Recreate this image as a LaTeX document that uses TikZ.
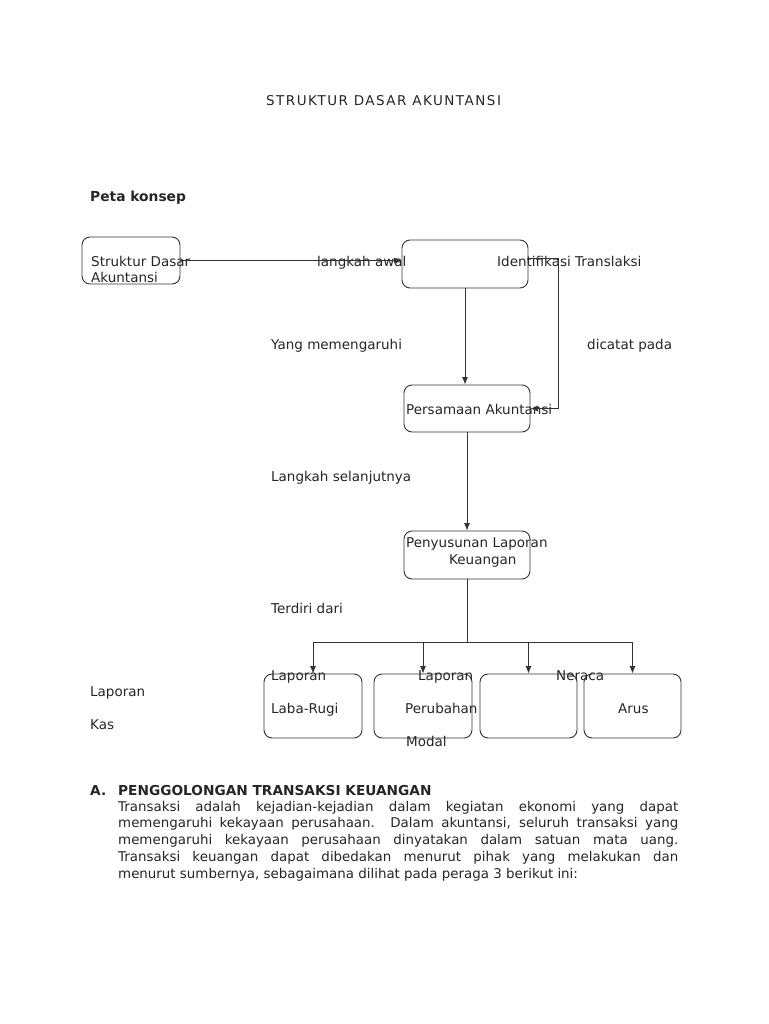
\documentclass[tikz,border=0pt]{standalone}
\usepackage{fontspec}
\setmainfont{DejaVu Sans}
\newfontfamily\spacedfont[LetterSpace=11]{DejaVu Sans}
\usetikzlibrary{arrows.meta}
\newcommand\jline[1]{\hbox to 560pt{\spaceskip=0.318em plus 1fil minus 0.15em #1}}
\begin{document}
\begin{tikzpicture}[x=1pt,y=-1pt,
  box/.style={draw=black!80,line width=0.9pt,rounded corners=8pt,inner sep=0pt},
  lbl/.style={anchor=base west,inner sep=0pt,font=\fontsize{13.5}{16}\selectfont,text=black!85},
  ln/.style={draw=black!80,line width=0.9pt},
  arr/.style={ln,-{Latex[length=7.5pt,width=6pt]}}]
\useasboundingbox[fill=white] (0,0) rectangle (768,1024);
% boxes
\node[box,minimum width=98pt,minimum height=47pt] (b1) at (131,260.5) {};
\node[box,minimum width=126pt,minimum height=48pt] (b2) at (465,264) {};
\node[box,minimum width=126pt,minimum height=47pt] (b3) at (467,408.5) {};
\node[box,minimum width=126pt,minimum height=48pt] (b4) at (467,555) {};
\node[box,minimum width=98pt,minimum height=64pt] (b5) at (313,706) {};
\node[box,minimum width=98pt,minimum height=64pt] (b6) at (423,706) {};
\node[box,minimum width=97pt,minimum height=64pt] (b7) at (528.5,706) {};
\node[box,minimum width=97pt,minimum height=64pt] (b8) at (632.5,706) {};
% texts
\node[lbl,font=\fontsize{13.5}{16}\spacedfont] (title) at (266,106) {STRUKTUR DASAR AKUNTANSI};
\node[lbl,font=\fontsize{13.8}{16}\selectfont\bfseries] (peta) at (90,202) {Peta konsep};
\node[lbl] (t1a) at (91,266) {Struktur Dasar};
\node[lbl] (t1b) at (91,282) {Akuntansi};
\node[lbl] (tla) at (317,266) {langkah awal};
\node[lbl] (tid) at (497,266) {Identifikasi Translaksi};
\node[lbl] (tym) at (271,349) {Yang memengaruhi};
\node[lbl] (tdp) at (587,349) {dicatat pada};
\node[lbl] (tpa) at (406,414) {Persamaan Akuntansi};
\node[lbl] (tls) at (271,481) {Langkah selanjutnya};
\node[lbl] (tpl) at (406,547) {Penyusunan Laporan};
\node[lbl] (tku) at (449,564) {Keuangan};
\node[lbl] (ttd) at (271,613) {Terdiri dari};
\node[lbl] (l1) at (271,680) {Laporan};
\node[lbl] (l2) at (271,713) {Laba-Rugi};
\node[lbl] (l3) at (418,680) {Laporan};
\node[lbl] (l4) at (405,713) {Perubahan};
\node[lbl] (l5) at (406,746) {Modal};
\node[lbl] (l6) at (556,680) {Neraca};
\node[lbl] (l7) at (618,713) {Arus};
\node[lbl] (l8) at (90,696) {Laporan};
\node[lbl] (l9) at (90,729) {Kas};
% connectors
\draw[arr] (b1.east) -- (b1.east -| b2.west);
\draw[arr] ([yshift=6pt]b2.east) -- ++(30,0) |- (b3.east);
\draw[arr] (b2.south) -- (b2.south |- b3.north);
\draw[arr] (b3.south) -- (b4.north);
\coordinate (j) at (466,642);
\draw[ln] (b4.south) -- (b4.south |- j);
\draw[ln] (b5.north |- j) -- (b8.north |- j);
\foreach \b in {b5,b6,b7,b8}{\draw[arr] (\b.north |- j) -- (\b.north);}
% section A
\node[lbl,font=\fontsize{13.7}{16}\selectfont\bfseries] (ha) at (90,795) {A.};
\node[lbl,font=\fontsize{13.7}{16}\selectfont\bfseries] (hb) at (118,795) {PENGGOLONGAN TRANSAKSI KEUANGAN};
\node[anchor=base west,inner sep=0pt,font=\fontsize{13.4}{16.9}\selectfont,text=black!85] (para) at (118,811)
  {\vtop{\baselineskip=16.9pt
   \jline{Transaksi adalah kejadian-kejadian dalam kegiatan ekonomi yang dapat}
   \jline{memengaruhi kekayaan perusahaan. Dalam akuntansi, seluruh transaksi yang}
   \jline{memengaruhi kekayaan perusahaan dinyatakan dalam satuan mata uang.}
   \jline{Transaksi keuangan dapat dibedakan menurut pihak yang melakukan dan}
   \hbox{menurut sumbernya, sebagaimana dilihat pada peraga 3 berikut ini:}}};
\end{tikzpicture}
\end{document}
